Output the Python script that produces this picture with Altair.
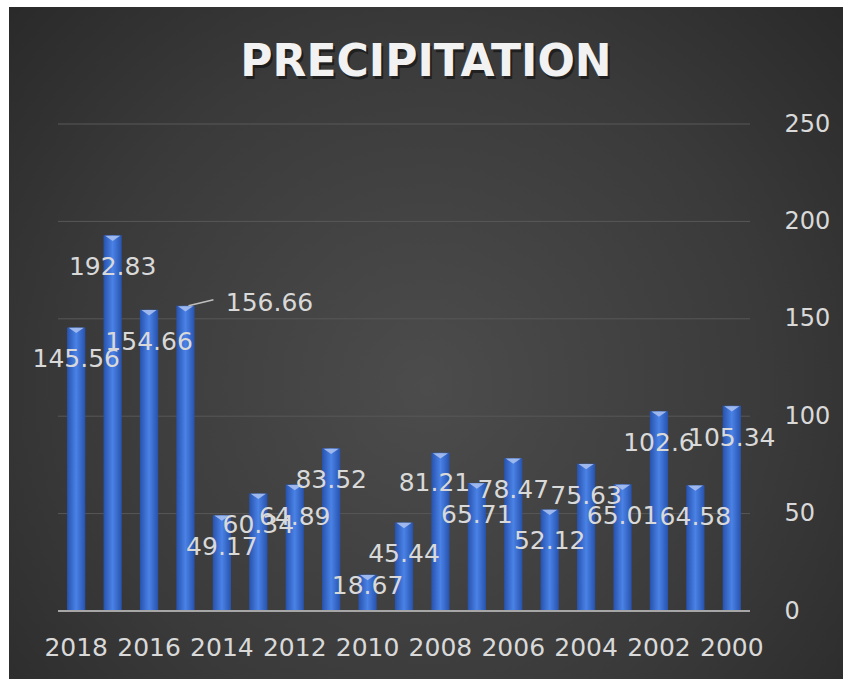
import altair as alt
import pandas as pd

# Annual precipitation, newest year first
years = ["2018", "2017", "2016", "2015", "2014", "2013", "2012", "2011", "2010", "2009",
         "2008", "2007", "2006", "2005", "2004", "2003", "2002", "2001", "2000"]
precip = [145.56, 192.83, 154.66, 156.66, 49.17, 60.34, 64.89, 83.52, 18.67, 45.44,
          81.21, 65.71, 78.47, 52.12, 75.63, 65.01, 102.6, 64.58, 105.34]
labels = ["145.56", "192.83", "154.66", "156.66", "49.17", "60.34", "64.89", "83.52", "18.67", "45.44",
          "81.21", "65.71", "78.47", "52.12", "75.63", "65.01", "102.6", "64.58", "105.34"]
year_ticks = ["2018", "2016", "2014", "2012", "2010", "2008", "2006", "2004", "2002", "2000"]
y_ticks = [0, 50, 100, 150, 200, 250]

df = pd.DataFrame({"year": years, "precip": precip, "label": labels})
grid_df = pd.DataFrame({"tick": y_ticks[1:]})

W, H = 692, 487
PAD = {"left": 58, "top": 124, "right": 93, "bottom": 68}
FONT = "DejaVu Sans"
TEXT = "#d9d9d9"

base = alt.Chart(df)
x_enc = alt.X(
    "year:N", sort=years, title=None,
    scale=alt.Scale(paddingInner=0.5, paddingOuter=0.25),
    axis=alt.Axis(values=year_ticks, labelAngle=0, labelFont=FONT, labelFontSize=25,
                  labelColor=TEXT, labelPadding=24, ticks=False, tickSize=0,
                  domain=False, grid=False, labelBaseline="top", zindex=2),
)
y_enc = alt.Y(
    "precip:Q", title=None,
    scale=alt.Scale(domain=[0, 250], nice=False),
    axis=alt.Axis(orient="right", values=y_ticks, labelFont=FONT, labelFontSize=24,
                  labelColor=TEXT, labelPadding=34, ticks=False, tickSize=0,
                  domain=False, grid=False, zindex=2),
)

# dark radial backdrop behind the whole figure
one = alt.Chart(pd.DataFrame({"k": [0]}))
backdrop = one.mark_rect(
    fill=alt.Gradient(
        gradient="radial",
        stops=[alt.GradientStop(offset=0, color="#4c4c4c"),
               alt.GradientStop(offset=0.55, color="#3a3a3a"),
               alt.GradientStop(offset=1, color="#252525")],
        x1=0.5, y1=0.55, x2=0.5, y2=0.55, r1=0, r2=0.75,
    )
).encode(
    x=alt.value(-PAD["left"] + 9), x2=alt.value(W + PAD["right"]),
    y=alt.value(-PAD["top"] + 7), y2=alt.value(H + PAD["bottom"]),
)

# horizontal gridlines, drawn above the backdrop and below the columns
grid = alt.Chart(grid_df).mark_rule(color="#585858", strokeWidth=1).encode(
    y=alt.Y("tick:Q"), x=alt.value(0), x2=alt.value(W)
)

bars = base.mark_bar(
    fill=alt.Gradient(
        gradient="linear", x1=0, x2=1, y1=0, y2=0,
        stops=[alt.GradientStop(offset=0, color="#2752ad"),
               alt.GradientStop(offset=0.5, color="#4a82e6"),
               alt.GradientStop(offset=1, color="#2752ad")],
    )
).encode(x=x_enc, y=y_enc)

# light bevel at the top of each column
bevel = base.mark_point(
    shape="M-1,-0.35L1,-0.35L0,0.35Z", filled=True, size=230,
    color="#a7bff0", opacity=0.9, yOffset=3,
).encode(x=alt.X("year:N", sort=years), y=alt.Y("precip:Q"))

baseline = one.mark_rule(color="#a6a6a6", strokeWidth=2).encode(
    y=alt.datum(0), x=alt.value(0), x2=alt.value(W)
)

# value labels: most sit inside the column, a few are nudged
nudge = {"2015": (84, -3), "2010": (0, 11), "2008": (-6, 30)}
default_nudge = (0, 32)
label_layers = []
groups = {}
for yr in years:
    groups.setdefault(nudge.get(yr, default_nudge), []).append(yr)
for (dx, dy), yrs in groups.items():
    label_layers.append(
        base.transform_filter(alt.FieldOneOfPredicate(field="year", oneOf=yrs))
        .mark_text(font=FONT, fontSize=25, color=TEXT, baseline="middle",
                   align="center", dx=dx, dy=dy)
        .encode(x=alt.X("year:N", sort=years), y=alt.Y("precip:Q"), text="label:N")
    )

leader = base.transform_filter(alt.datum.year == "2015").mark_rule(
    color="#bfbfbf", strokeWidth=1.5, xOffset=3, yOffset=0, x2Offset=28, y2Offset=-6
).encode(x=alt.X("year:N", sort=years), x2="year:N",
         y=alt.Y("precip:Q"), y2="precip:Q")

title_kw = dict(font=FONT, fontSize=44, fontWeight="bold", align="center",
                baseline="alphabetic")
title_shadow = one.mark_text(color="#000000", opacity=0.45, dx=2, dy=3, **title_kw).encode(
    x=alt.value(368), y=alt.value(-48), text=alt.value("PRECIPITATION"))
title = one.mark_text(color="#f2f2f2", **title_kw).encode(
    x=alt.value(368), y=alt.value(-48), text=alt.value("PRECIPITATION"))

chart = alt.layer(
    backdrop, grid, bars, bevel, baseline, leader, *label_layers, title_shadow, title
).properties(
    width=W, height=H, padding=PAD, autosize=alt.AutoSizeParams(type="none"),
    background="#ffffff",
).configure_view(stroke=None)

chart.save("out.html", embed_options={"renderer": "svg", "actions": False})
